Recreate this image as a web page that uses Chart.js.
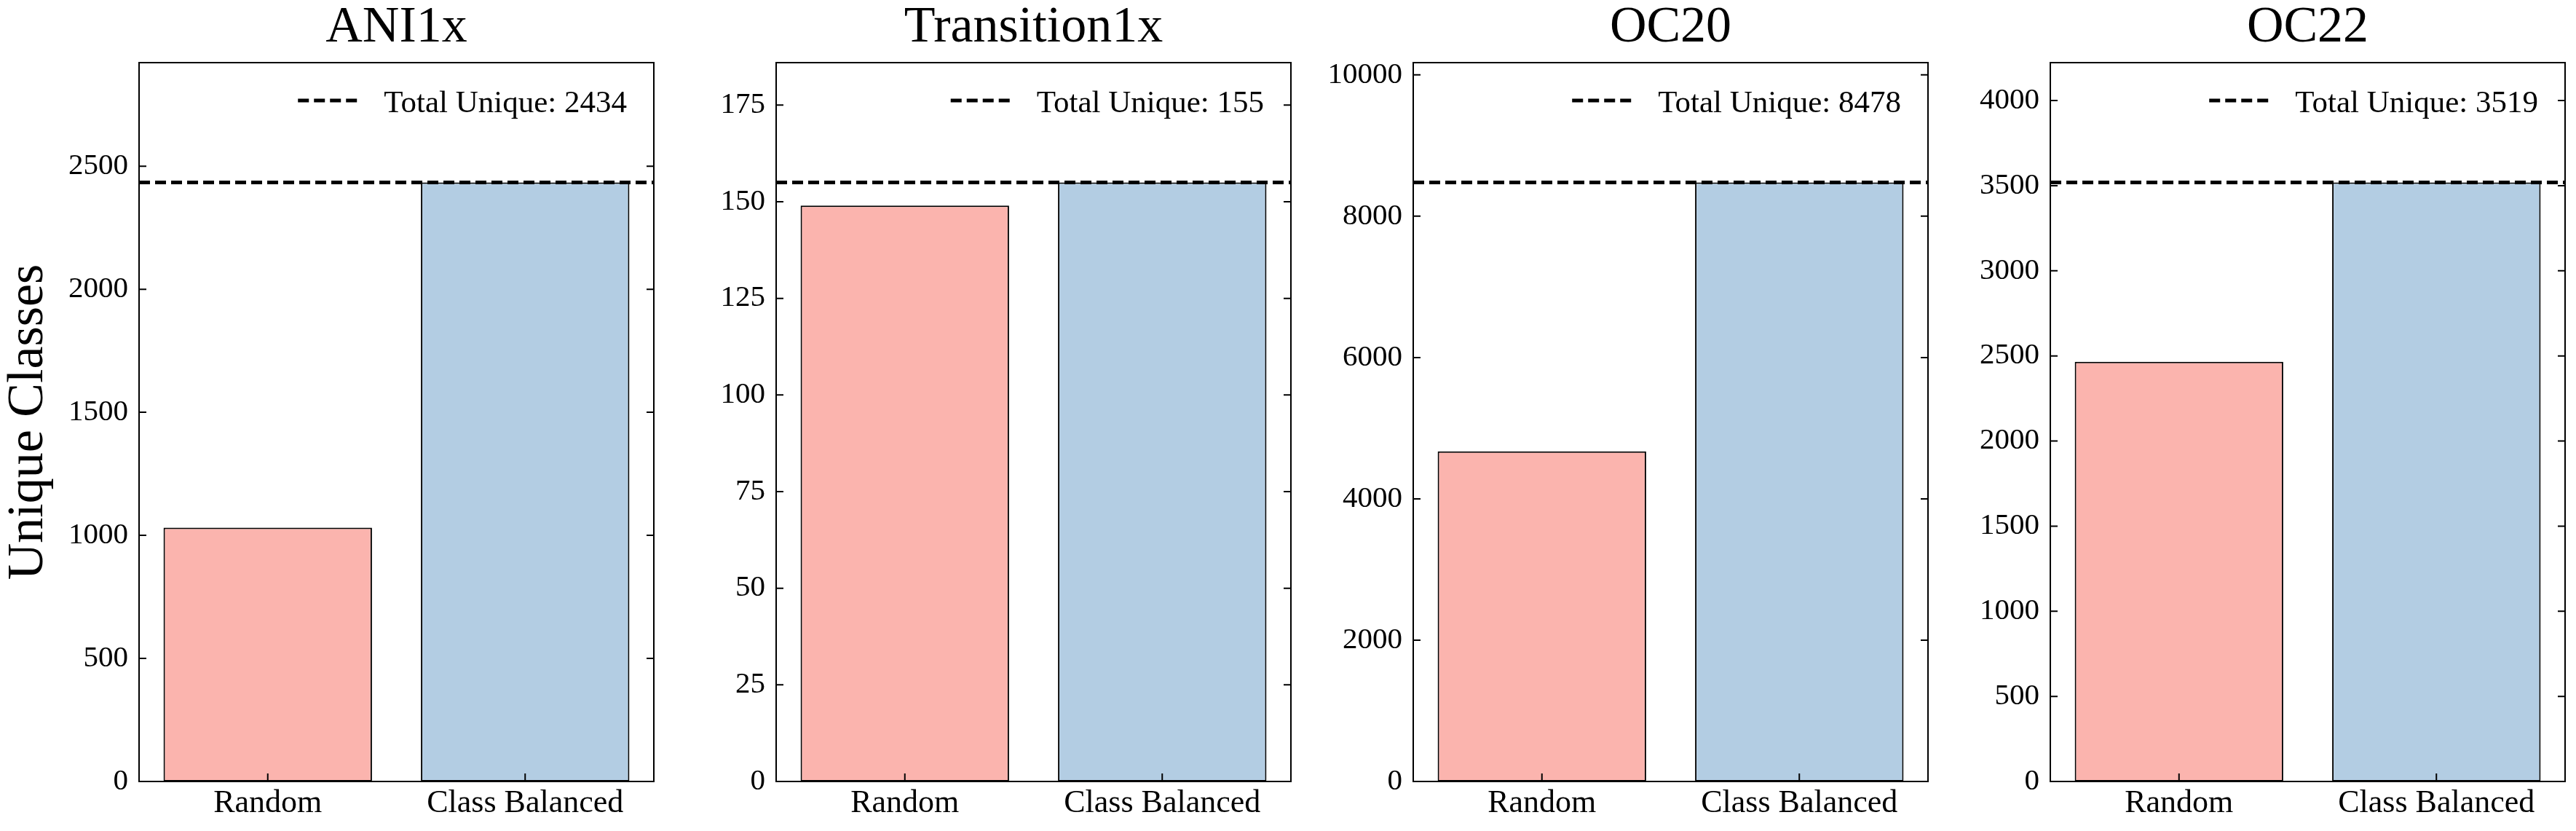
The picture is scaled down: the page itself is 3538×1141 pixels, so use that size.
<!DOCTYPE html>
<html>
<head>
<meta charset="utf-8">
<title>Unique classes per dataset</title>
<script src="https://cdn.jsdelivr.net/npm/chart.js@4.4.1/dist/chart.umd.min.js"></script>
<style>
  body { margin: 0; background: #fff; width: 3538px; height: 1141px; position: relative; overflow: hidden; }
  canvas { position: absolute; top: 0; }
</style>
</head>
<body>
<canvas id="c0"></canvas>
<canvas id="c1"></canvas>
<canvas id="c2"></canvas>
<canvas id="c3"></canvas>
<script>
// data
var datasetNames = ['ANI1x', 'Transition1x', 'OC20', 'OC22'];
var methods = ['Random', 'Class Balanced'];
var randomCounts = [1031, 149, 4672, 2465];
var balancedCounts = [2434, 155, 8478, 3519];
var totalUnique = [2434, 155, 8478, 3519];
var yTicks = [
    [0, 500, 1000, 1500, 2000, 2500],
    [0, 25, 50, 75, 100, 125, 150, 175],
    [0, 2000, 4000, 6000, 8000, 10000],
    [0, 500, 1000, 1500, 2000, 2500, 3000, 3500, 4000]
];

// layout of the four panels (left edge of each plot box)
var axesLeft = [191, 1066, 1941, 2816];
var yAxisWidth = 191;
var plotWidth = 707;
var rightPad = 12;
var serif = 'Liberation Serif';

Chart.defaults.font.family = serif;
Chart.defaults.color = '#000';

// box around the plot + inward ticks, matplotlib style
var frameTicks = {
    id: 'frameTicks',
    afterDatasetsDraw: function(chart) {
        var a = chart.chartArea, c = chart.ctx;
        var xs = chart.scales.x, ys = chart.scales.y;
        c.save();
        c.strokeStyle = '#000';
        c.lineWidth = 2;
        c.beginPath();
        ys.ticks.forEach(function(t) {
            var py = ys.getPixelForValue(t.value);
            c.moveTo(a.left, py); c.lineTo(a.left + 10, py);
            c.moveTo(a.right, py); c.lineTo(a.right - 10, py);
        });
        xs.ticks.forEach(function(t, k) {
            var px = xs.getPixelForTick(k);
            c.moveTo(px, a.bottom); c.lineTo(px, a.bottom - 11);
        });
        c.stroke();
        c.strokeRect(a.left, a.top, a.right - a.left, a.bottom - a.top);
        c.restore();
    }
};

// legend inside the axes, upper right
var innerLegend = {
    id: 'innerLegend',
    afterDraw: function(chart) {
        var a = chart.chartArea, c = chart.ctx;
        var ds = chart.data.datasets[0];
        c.save();
        c.font = '43px "' + serif + '"';
        c.fillStyle = '#000';
        c.textAlign = 'right';
        c.textBaseline = 'alphabetic';
        var tx = a.right - 37;
        c.fillText(ds.label, tx, a.top + 68);
        var tw = c.measureText(ds.label).width;
        var x1 = tx - tw - 37;
        c.strokeStyle = ds.borderColor;
        c.lineWidth = ds.borderWidth;
        c.setLineDash(ds.borderDash);
        c.beginPath();
        c.moveTo(x1 - 81, a.top + 52);
        c.lineTo(x1, a.top + 52);
        c.stroke();
        c.restore();
    }
};

function makePanel(i) {
    var cv = document.getElementById('c' + i);
    cv.width = yAxisWidth + plotWidth + rightPad;
    cv.height = 1141;
    cv.style.left = (axesLeft[i] - yAxisWidth) + 'px';

    return new Chart(cv.getContext('2d'), {
        type: 'bar',
        data: {
            labels: methods,
            datasets: [{
                type: 'line',
                label: 'Total Unique: ' + totalUnique[i],
                xAxisID: 'x2',
                data: [{x: 0, y: totalUnique[i]}, {x: 1, y: totalUnique[i]}],
                borderColor: '#000',
                borderWidth: 5,
                borderDash: [15, 7],
                pointRadius: 0,
                fill: false,
                order: 0
            }, {
                type: 'bar',
                label: 'counts',
                data: [randomCounts[i], balancedCounts[i]],
                backgroundColor: ['#fbb4ae', '#b3cde3'],
                borderColor: '#000',
                borderWidth: 2,
                borderSkipped: false,
                grouped: false,
                barPercentage: 0.81,
                categoryPercentage: 1,
                order: 1
            }]
        },
        options: {
            responsive: false,
            animation: false,
            devicePixelRatio: 1,
            layout: { padding: { left: 0, right: rightPad, top: 0, bottom: 0 } },
            plugins: {
                legend: { display: false },
                tooltip: { enabled: false },
                title: {
                    display: true,
                    fullSize: false,
                    text: datasetNames[i],
                    color: '#000',
                    font: { family: serif, size: 70, weight: 'normal', lineHeight: 78 / 70 },
                    padding: { top: 0, bottom: 8 }
                }
            },
            scales: {
                x: {
                    type: 'category',
                    offset: true,
                    grid: { display: false, drawTicks: false },
                    border: { display: false },
                    ticks: { font: { size: 44 }, color: '#000', padding: 4, maxRotation: 0 },
                    afterFit: function(s) { s.height = 68; }
                },
                // hidden 0..1 axis so the dashed total line spans the whole plot width
                x2: {
                    type: 'linear',
                    display: false,
                    offset: false,
                    grace: 0,
                    min: 0,
                    max: 1
                },
                y: {
                    type: 'linear',
                    min: 0,
                    max: totalUnique[i] * 1.2,
                    grid: { display: false, drawTicks: false },
                    border: { display: false },
                    ticks: {
                        font: { size: 41 },
                        color: '#000',
                        padding: 15,
                        callback: function(v) { return String(v); }
                    },
                    afterBuildTicks: function(s) {
                        s.ticks = yTicks[i].map(function(v) { return {value: v}; });
                    },
                    title: {
                        display: i === 0,
                        text: 'Unique Classes',
                        color: '#000',
                        font: { family: serif, size: 70, weight: 'normal', lineHeight: 1 },
                        padding: { top: 5, bottom: 0 }
                    },
                    afterFit: function(s) { s.width = yAxisWidth; }
                }
            }
        },
        plugins: [frameTicks, innerLegend]
    });
}

for (var i = 0; i < datasetNames.length; i++) {
    makePanel(i);
}
</script>
</body>
</html>
